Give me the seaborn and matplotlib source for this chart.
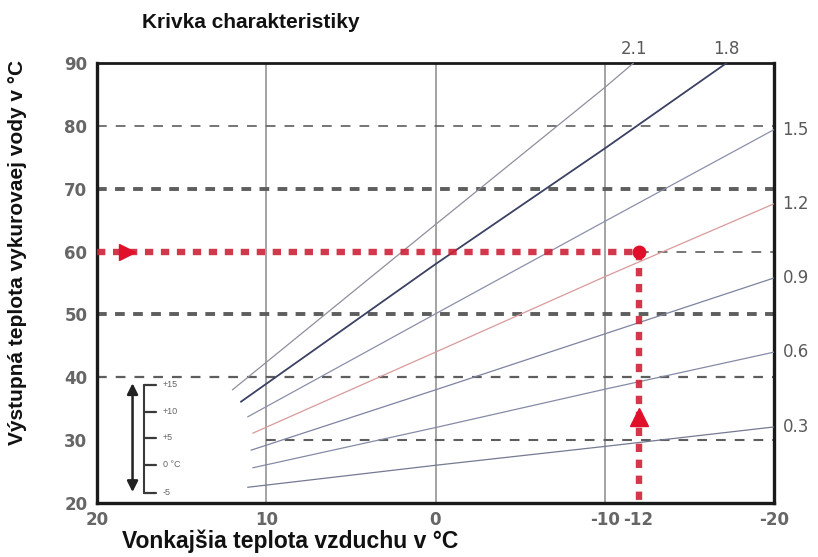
import matplotlib
matplotlib.use("Agg")
import matplotlib.pyplot as plt
import pandas as pd
import seaborn as sns

# Heating characteristic curves: outdoor air temperature -> flow water temperature
curve_names = ["2.1", "1.8", "1.5", "1.2", "0.9", "0.6", "0.3"]
x_start = [12.0, 11.5, 11.1, 10.8, 10.9, 10.8, 11.1]
y_start = [38.0, 36.1, 33.7, 31.1, 28.4, 25.6, 22.5]
y_at_zero = [64.3, 58.0, 50.1, 44.0, 38.0, 32.0, 26.0]
y_at_minus10 = [86.1, 76.4, 64.8, 56.0, 46.9, 38.1, 29.0]
x_end = [-11.7, -17.2, -20.0, -20.0, -20.0, -20.0, -20.0]
y_end = [90.0, 90.0, 79.4, 67.6, 55.8, 44.0, 32.1]

curve_colors = ["#8f8f9e", "#3b4163", "#8a90aa", "#d99a9a", "#7d83a0", "#858ba4", "#747a92"]
curve_widths = [0.9, 1.3, 0.9, 0.9, 0.9, 0.9, 0.9]

# Axis ticks
x_ticks = [20, 10, 0, -10, -12, -20]
x_tick_labels = ["20", "10", "0", "-10", "-12", "-20"]
y_ticks = [20, 30, 40, 50, 60, 70, 80, 90]

# Reading example: -12 °C outside -> 60 °C flow
design_outdoor = -12
design_flow = 60

# Room temperature shift scale
shift_labels = ["+15", "+10", "+5", "0 °C", "-5"]
shift_y = [38.8, 34.5, 30.4, 26.1, 21.6]

rows = []
for i, name in enumerate(curve_names):
    xs = [x_start[i], 0, -10, x_end[i]]
    ys = [y_start[i], y_at_zero[i], y_at_minus10[i], y_end[i]]
    for xv, yv in zip(xs, ys):
        rows.append({"curve": name, "t_out": xv, "t_flow": yv})
curves = pd.DataFrame(rows)

sns.set_theme(style="white")
plt.rcParams["font.family"] = ["Liberation Sans", "DejaVu Sans"]
plt.rcParams["lines.scale_dashes"] = False

fig = plt.figure(figsize=(8.18, 5.57), dpi=100)
ax = fig.add_axes([97 / 818, 1 - 503 / 557, (774 - 97) / 818, (503 - 63) / 557])

# vertical grid lines
for xv in [10, 0, -10]:
    ax.axvline(xv, color="#8a8a8a", lw=1.1, zorder=1)

# horizontal dashed reference lines
h_levels = [80, 70, 60, 50, 40, 30]
h_from = [20, 20, -12, 20, 20, 10]
h_widths = [1.2, 2.8, 1.2, 2.8, 1.6, 1.5]
h_dash = [(7.0, 6.5), (7.0, 6.0), (7.0, 6.5), (7.0, 6.0), (7.0, 6.5), (7.0, 6.5)]
for lvl, x0, lw, ds in zip(h_levels, h_from, h_widths, h_dash):
    ax.plot([x0, -20], [lvl, lvl], color="#5e5e5e", lw=lw, dashes=ds, zorder=2)

# characteristic curves
for name, col, lw in zip(curve_names, curve_colors, curve_widths):
    sns.lineplot(data=curves[curves["curve"] == name], x="t_out", y="t_flow",
                 sort=False, estimator=None, color=col, lw=lw, ax=ax, zorder=3)

# design point reading path
red = "#cc2238"
ax.plot([20, design_outdoor], [design_flow, design_flow], color=red, lw=4.6,
        dashes=(6.0, 5.5), alpha=0.9, zorder=5)
ax.plot([design_outdoor, design_outdoor], [design_flow, 20], color=red, lw=4.6,
        dashes=(6.0, 5.5), alpha=0.9, zorder=5)
ax.plot([design_outdoor], [design_flow], marker="o", ms=9, color="#e0102a", zorder=6)
ax.plot([18.2], [design_flow], marker=">", ms=11, color="#e0102a", mec="#e0102a", zorder=6)
ax.plot([design_outdoor], [33.7], marker="^", ms=13, color="#e0102a", mec="#e0102a", zorder=6)

# room temperature shift scale
ax.annotate("", xy=(17.9, 39.5), xytext=(17.9, 21.3),
            arrowprops=dict(arrowstyle="<|-|>", lw=1.8, color="#222222", mutation_scale=16))
ax.plot([17.2, 17.2], [shift_y[-1], shift_y[0]], color="#3a3a3a", lw=1.5, zorder=4)
for lab, yv in zip(shift_labels, shift_y):
    ax.plot([17.2, 16.5], [yv, yv], color="#3a3a3a", lw=1.6, zorder=4)
    ax.text(16.1, yv, lab, fontsize=6.5, color="#666666", ha="left", va="center")

# curve labels
tick_font = dict(fontsize=12, color="#5a5a5a", family="DejaVu Sans")
for name, xe, ye in zip(curve_names, x_end, y_end):
    if ye >= 90:
        ax.text(xe, 92.3, name, ha="center", va="center", clip_on=False, **tick_font)
    else:
        ax.text(-20.5, ye, name, ha="left", va="center", clip_on=False, **tick_font)

ax.set_xlim(20, -20)
ax.set_ylim(20, 90)
ax.set_xticks(x_ticks)
ax.set_xticklabels(x_tick_labels)
ax.set_yticks(y_ticks)
ax.tick_params(axis="x", length=0, pad=6)
ax.tick_params(axis="y", length=0, pad=7)
for lab in ax.get_xticklabels() + ax.get_yticklabels():
    lab.set_fontsize(12)
    lab.set_color("#666666")
    lab.set_fontweight("bold")
    lab.set_family("DejaVu Sans")
ax.set_xlabel("")
ax.set_ylabel("")

for side, sp in ax.spines.items():
    sp.set_visible(True)
    sp.set_color("#1a1a1a")
    sp.set_linewidth(2.0 if side == "top" else 2.4)

fig.text(251 / 818, 1 - 22 / 557, "Krivka charakteristiky", fontsize=15,
         fontweight="bold", ha="center", va="center", color="#111111")
fig.text(18 / 818, 1 - 252 / 557, "Výstupná teplota vykurovaej vody v °C", fontsize=15,
         fontweight="bold", rotation=90, ha="center", va="center", color="#111111")
fig.text(290 / 818, 1 - 541 / 557, "Vonkajšia teplota vzduchu v °C", fontsize=16.5,
         fontweight="bold", ha="center", va="center", color="#111111")

fig.savefig("out.png", dpi=100, facecolor="white")
